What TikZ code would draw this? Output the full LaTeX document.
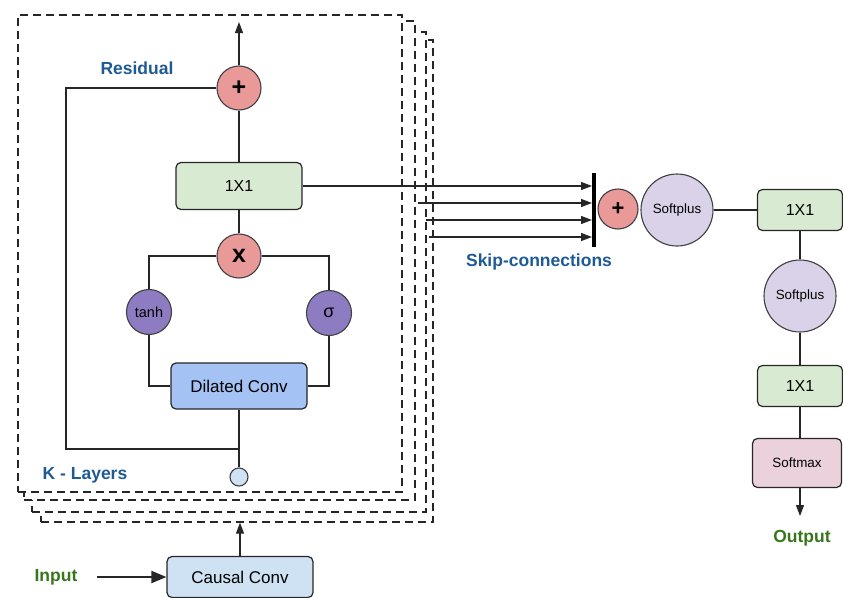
\documentclass[tikz,border=0pt]{standalone}
\usepackage{fontspec}
\setmainfont{Liberation Sans}
\usetikzlibrary{arrows.meta,calc}
\definecolor{labblue}{HTML}{1F5A94}
\definecolor{labgreen}{HTML}{38761D}
\definecolor{opred}{HTML}{EA9999}
\definecolor{actpurple}{HTML}{8E7CC3}
\definecolor{softlilac}{HTML}{D9D2E9}
\definecolor{gatgreen}{HTML}{D9EAD3}
\definecolor{dilblue}{HTML}{A4C2F4}
\definecolor{inblue}{HTML}{CFE2F3}
\definecolor{maxpink}{HTML}{EAD1DC}

\begin{document}
\begin{tikzpicture}[x=1pt,y=-1pt,
	layer/.style={rectangle, draw=black!85, fill=white, dash pattern=on 8pt off 5pt, line width=1.3pt, inner sep=0},
	conv/.style={rectangle, rounded corners=5pt, draw=black!85, line width=1.2pt, inner sep=0, font=\fontsize{17}{20}\selectfont},
	op/.style={circle, draw=black!75, line width=1.1pt, inner sep=0, minimum size=44pt, fill=opred, font=\bfseries\fontsize{25}{28}\selectfont},
	act/.style={circle, draw=black!75, line width=1.1pt, inner sep=0, minimum size=45pt, fill=actpurple, font=\fontsize{14.5}{16}\selectfont},
	soft/.style={circle, draw=black!75, line width=1.1pt, inner sep=0, minimum size=72pt, fill=softlilac, font=\fontsize{13.4}{15}\selectfont},
	lab/.style={font=\bfseries\fontsize{17.5}{20}\selectfont, text=labblue},
	wire/.style={line width=1.2pt, black!85},
	flow/.style={wire, -{Triangle[length=11pt,width=8pt]}}]
	\useasboundingbox (0,0) rectangle (843,597);

		%stacked layers
		\foreach \k/\l/\t/\r/\b in {3/41/40/433/522, 2/32/32/426/512, 1/24/21/415/500, 0/18/15/402/492} {
			\node[layer, minimum width={(\r-\l)*1pt}, minimum height={(\b-\t)*1pt}] at ({(\l+\r)/2},{(\t+\b)/2}) (lay\k) {};
		}
		%residual block
		\node[op] at (239,88) (add) {+};
		\node[conv, fill=gatgreen, minimum width=126pt, minimum height=47pt, font=\fontsize{16}{18}\selectfont] at (239,186) (res) {1X1};
		\node[op] at (239,256) (mul) {x};
		\node[act] at (149,312) (tanh) {tanh};
		\node[act, font=\fontsize{18}{20}\selectfont] at (329,313) (sig) {σ};
		\node[conv, fill=dilblue, minimum width=136pt, minimum height=46pt] at (239,386) (dil) {Dilated Conv};
		\node[circle, draw=black!75, line width=1.1pt, fill=inblue, inner sep=0, minimum size=18pt] at (239,477) (tap) {};
		\node[conv, fill=inblue, minimum width=146pt, minimum height=41pt] at (240,577) (causal) {Causal Conv};

		\node[lab] at (137,68) (reslab) {Residual};
		\node[lab] at (85,475) (klab) {K - Layers};
		\node[lab, text=labgreen] at (56,577) (in) {Input};

		\coordinate (top) at (239,22);
		\coordinate (rl) at (66,449);
		\draw[flow] (add.north) -- (top);
		\draw[wire] (res.north) -- (add.south);
		\draw[wire] (mul.north) -- (res.south);
		\draw[wire] (mul.west) -| (tanh.north);
		\draw[wire] (mul.east) -| (sig.north);
		\draw[wire] (tanh.south) |- (dil.west);
		\draw[wire] (sig.south) |- (dil.east);
		\draw[wire] (dil.south) -- (tap.north);
		\draw[wire] (add.west) -| (rl) -- (rl -| tap);
		\draw[flow] (causal.north) -- (causal.north |- lay3.south);
		\draw[flow, line width=2pt, -{Triangle[length=15pt,width=12pt]}] ([xshift=16pt]in.east) -- (causal.west);

		%skip connections
		\coordinate (bartop) at (594,173);
		\coordinate (barbot) at (594,247);
		\draw[line width=3.2pt] (bartop) -- (barbot);
		\draw[flow] (res.east) -- ([xshift=-2pt]bartop |- res.east);
		\foreach \x/\y [count=\i] in {418/203, 426/220, 429/237} {
			\coordinate (sk\i) at (\x,\y);
			\draw[flow] (sk\i) -- ([xshift=-2pt]bartop |- sk\i);
		}
		\node[lab] at (539,262) (sklab) {Skip-connections};

		%output stack
		\node[op, minimum size=40pt, font=\bfseries\fontsize{22}{24}\selectfont] at (618,209) (sum) {+};
		\node[soft] at (677,210) (sp1) {Softplus};
		\node[conv, fill=gatgreen, minimum width=85pt, minimum height=41pt, font=\fontsize{16}{18}\selectfont] at (800,210) (o1) {1X1};
		\node[soft] at (800,296) (sp2) {Softplus};
		\node[conv, fill=gatgreen, minimum width=85pt, minimum height=41pt, font=\fontsize{16}{18}\selectfont] at (800,386) (o2) {1X1};
		\node[conv, fill=maxpink, minimum width=89pt, minimum height=49pt, font=\fontsize{13.4}{15}\selectfont] at (797,463) (smax) {Softmax};
		\node[lab, text=labgreen] at (802,538) (out) {Output};
		\coordinate (outtip) at (800,516);

		\draw[wire] (sp1.east) -- (o1.west);
		\draw[wire] (o1.south) -- (sp2.north);
		\draw[wire] (sp2.south) -- (o2.north);
		\draw[wire] (o2.south) -- (o2.south |- smax.north);
		\draw[flow] (o2.south |- smax.south) -- (outtip);
	\end{tikzpicture}
\end{document}
